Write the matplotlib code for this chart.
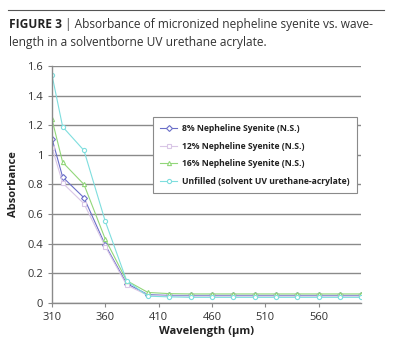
import matplotlib
matplotlib.use("Agg")
import matplotlib.pyplot as plt

# wavelengths sampled (nm, labelled µm in the source)
wavelength = [310, 320, 340, 360, 380, 400, 420, 440, 460, 480, 500, 520, 540, 560, 580, 600]

ns_8 = [1.11, 0.85, 0.71, 0.39, 0.13, 0.055, 0.05, 0.05, 0.05, 0.05, 0.05, 0.05, 0.05, 0.05, 0.05, 0.05]
ns_12 = [1.05, 0.81, 0.67, 0.38, 0.12, 0.05, 0.045, 0.045, 0.045, 0.045, 0.045, 0.045, 0.045, 0.045, 0.045, 0.045]
ns_16 = [1.24, 0.95, 0.80, 0.43, 0.15, 0.07, 0.062, 0.06, 0.06, 0.06, 0.06, 0.06, 0.06, 0.06, 0.06, 0.06]
unfilled = [1.54, 1.19, 1.03, 0.55, 0.15, 0.045, 0.04, 0.037, 0.037, 0.037, 0.037, 0.037, 0.037, 0.037, 0.037, 0.037]

labels = ["8% Nepheline Syenite (N.S.)", "12% Nepheline Syenite (N.S.)",
          "16% Nepheline Syenite (N.S.)", "Unfilled (solvent UV urethane-acrylate)"]
xticks = [310, 360, 410, 460, 510, 560]
yticks = [0, 0.2, 0.4, 0.6, 0.8, 1, 1.2, 1.4, 1.6]

plt.rcParams['font.family'] = ['Open Sans', 'DejaVu Sans']

fig = plt.figure(figsize=(4, 3.41), dpi=100)

# caption
fig.add_artist(plt.Line2D([0.02, 0.96], [0.97, 0.97], color='#555555', lw=0.8))
fig.text(0.022, 0.918, "FIGURE 3", fontsize=8.6, fontweight='bold', color='#222222')
fig.text(0.163, 0.918, "| Absorbance of micronized nepheline syenite vs. wave-",
         fontsize=8.6, color='#333333')
fig.text(0.022, 0.866, "length in a solventborne UV urethane acrylate.",
         fontsize=8.6, color='#333333')

ax = fig.add_axes([0.13, 0.112, 0.773, 0.694])

series = [
    (ns_8, '#6a6ec8', 'D'),
    (ns_12, '#d9c6e6', 's'),
    (ns_16, '#92d77a', '^'),
    (unfilled, '#7fdede', 'o'),
]
for (vals, col, mk), lab in zip(series, labels):
    ax.plot(wavelength, vals, color=col, lw=0.8, marker=mk, markersize=3,
            markerfacecolor='white', markeredgecolor=col, markeredgewidth=0.8,
            label=lab)

ax.set_xlim(310, 600)
ax.set_ylim(0, 1.6)
ax.set_xticks(xticks)
ax.set_yticks(yticks)
ax.set_yticklabels(["0", "0.2", "0.4", "0.6", "0.8", "1", "1.2", "1.4", "1.6"])
ax.yaxis.grid(True, color='#8a8a8a', lw=1.0)
ax.set_axisbelow(True)
for s in ['top', 'right']:
    ax.spines[s].set_visible(False)
for s in ['left', 'bottom']:
    ax.spines[s].set_color('#8a8a8a')
    ax.spines[s].set_linewidth(1.0)
ax.tick_params(axis='both', colors='#8a8a8a', labelcolor='#333333', labelsize=8, length=3)

ax.set_xlabel("Wavelength (µm)", fontsize=8, fontweight='bold', color='#222222', labelpad=2)
ax.set_ylabel("Absorbance", fontsize=8, fontweight='bold', color='#222222', labelpad=6)

leg = ax.legend(loc='upper left', bbox_to_anchor=(0.327, 0.785), borderaxespad=0,
                fontsize=6.2, frameon=True, fancybox=False, edgecolor='#8a8a8a',
                framealpha=1, borderpad=0.8, labelspacing=1.0, handlelength=2.0,
                handletextpad=0.6)
leg.get_frame().set_linewidth(0.8)
for t in leg.get_texts():
    t.set_fontweight('bold')
    t.set_color('#222222')

fig.savefig("out.png", dpi=100)
